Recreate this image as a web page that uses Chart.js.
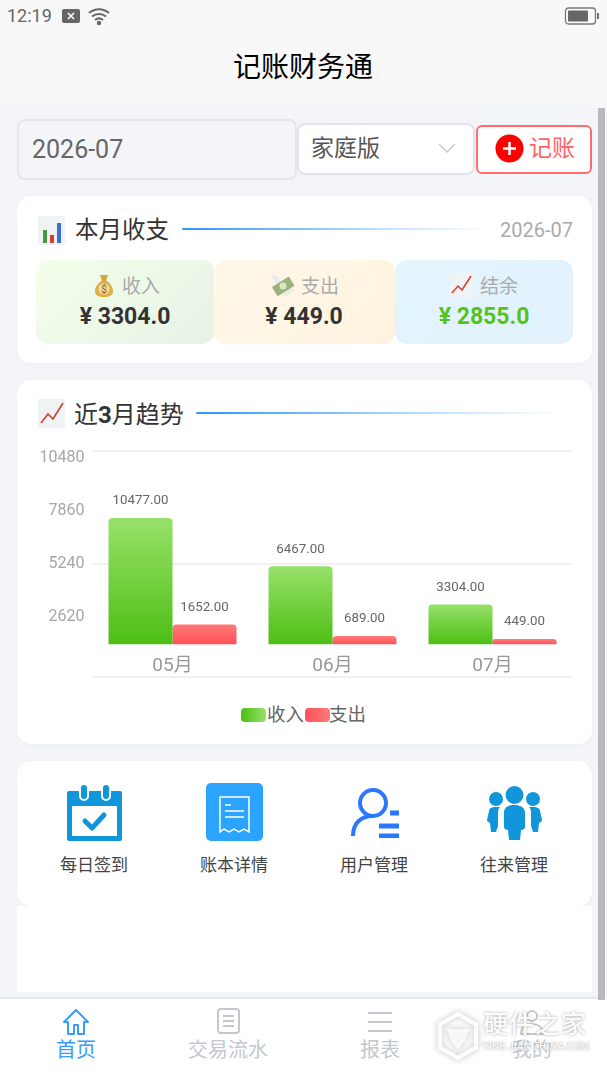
<!DOCTYPE html>
<html lang="zh">
<head>
<meta charset="utf-8">
<title>记账财务通</title>
<script src="https://cdn.jsdelivr.net/npm/chart.js@4/dist/chart.umd.min.js"></script>
<style>
html, body { margin: 0; padding: 0; background: #fff; }
body { width: 607px; height: 1080px; position: relative; overflow: hidden; font-family: Roboto, "Noto Sans CJK SC", sans-serif; }
div, span, svg, canvas { position: absolute; box-sizing: border-box; }
.txt { white-space: nowrap; line-height: 1; }
.center { transform: translateX(-50%); text-align: center; }
.card { background: #fff; border-radius: 14px; box-shadow: 0 1px 4px rgba(200,205,220,.15); }
.line { height: 2px; border-radius: 1px; background: linear-gradient(90deg, #2f95fb, #bfe0ff 65%, rgba(255,255,255,0)); }
.sub { top: 260px; height: 84px; border-radius: 12px; }
.sub-label { top: 277px; font-size: 19px; color: #aaa; }
.sub-value { top: 305px; font-size: 23px; font-weight: 700; color: #333; }
.grid-label { top: 857px; font-size: 17px; color: #444; }
.tab { top: 1040px; font-size: 20px; color: #c4c7d0; }
</style>
</head>
<body>
<div style="left:0;top:0;width:607px;height:105px;background:#f8f8f8"></div>
<div style="left:0;top:105px;width:607px;height:892px;background:#f4f5f9"></div>

<!-- status bar -->
<div class="txt" style="left:7px;top:7px;font-size:18px;color:#666">12:19</div>
<svg style="left:61px;top:8px" width="20" height="16"><rect x="1" y="1" width="18" height="14" rx="2" fill="#666"/><path d="M7 5l6 6M13 5l-6 6" stroke="#fff" stroke-width="1.6"/></svg>
<svg style="left:87px;top:6px" width="24" height="20" fill="none" stroke="#666" stroke-width="2"><path d="M2 7c6-5 14-5 20 0M5 10.500c4-3.500 10-3.500 14 0M8 14c2.500-2 5.500-2 8 0"/><circle cx="12" cy="17" r="1.200" fill="#666"/></svg>
<svg style="left:564px;top:7px" width="36" height="18"><rect x="1.500" y="1" width="30" height="16" rx="3" fill="none" stroke="#777" stroke-width="1.300"/><rect x="4" y="3.500" width="20" height="11" rx="1" fill="#666"/><rect x="33" y="6" width="2" height="6" fill="#777"/></svg>

<div class="txt center" style="left:303px;top:54px;font-size:28px;color:#000">记账财务通</div>

<!-- scrollbar -->
<div style="left:598px;top:108px;width:7px;height:892px;background:#b9b9bc"></div>

<!-- filter row -->
<div style="left:17px;top:119px;width:280px;height:61px;border:2px solid #e4e6ee;border-radius:8px;background:#f4f5f9"></div>
<div class="txt" style="left:32px;top:137px;font-size:25px;color:#666">2026-07</div>
<div style="left:297px;top:123px;width:178px;height:52px;border:2px solid #e0e3ec;border-radius:8px;background:#fff"></div>
<div class="txt" style="left:311px;top:137px;font-size:23px;color:#555">家庭版</div>
<svg style="left:437px;top:142px" width="20" height="12" fill="none" stroke="#c8cbd6" stroke-width="1.500"><path d="M2 2l8 8 8-8"/></svg>
<div style="left:476px;top:125px;width:116px;height:49px;border:2px solid #ff6b6e;border-radius:6px;background:#fff"></div>
<svg style="left:495px;top:134px" width="29" height="29"><circle cx="14.500" cy="14.500" r="14" fill="#f00"/><path d="M14.500 8v13M8 14.500h13" stroke="#fff" stroke-width="2.500"/></svg>
<div class="txt" style="left:529px;top:137px;font-size:23px;color:#ff6366">记账</div>

<!-- this month -->
<div class="card" style="left:17px;top:196px;width:575px;height:167px"></div>
<svg style="left:38px;top:216px" width="27" height="29"><rect width="27" height="29" rx="1" fill="#f0f3f4"/><rect x="5" y="14" width="4" height="13" fill="#3f9b3c"/><rect x="12" y="19" width="4" height="8" fill="#db3c2e"/><rect x="19" y="7" width="4" height="20" fill="#3b6fd1"/></svg>
<div class="txt" style="left:75px;top:219px;font-size:23.500px;color:#333">本月收支</div>
<div class="line" style="left:182px;top:228px;width:308px"></div>
<div class="txt" style="right:34px;top:220px;font-size:20px;color:#aaa">2026-07</div>

<div class="sub" style="left:36px;width:178px;background:linear-gradient(135deg,#f3ffea,#e7f2e6)"></div>
<div class="sub" style="left:214px;width:181px;background:linear-gradient(135deg,#fff8e8,#fff3e0)"></div>
<div class="sub" style="left:395px;width:178px;background:linear-gradient(135deg,#e3f5ff,#e2f1fc)"></div>

<svg style="left:94px;top:273px" width="20" height="25"><path d="M6 2h8l-2 6h-4z" fill="#d9a43a"/><path d="M7 8h6c4 3 6 7 6 10 0 4-3 6-9 6s-9-2-9-6c0-3 2-7 6-10z" fill="#e2ae45"/><circle cx="10" cy="16" r="5.500" fill="#f4dc9a"/><text x="10" y="20" font-size="10" text-anchor="middle" fill="#7a5a18" font-family="Roboto">$</text></svg>
<div class="txt sub-label" style="left:122px">收入</div>
<div class="txt sub-value center" style="left:125px">¥ <span style="position:static">3304.0</span></div>

<svg style="left:270px;top:273px" width="25" height="25"><path d="M1 2c5 0 9 3 11 6l-5 3C5 8 2 5 1 2z" fill="#e8ecef"/><path d="M24 17c-3 4-7 6-11 7l1-5 5-4z" fill="#e8ecef"/><rect x="3" y="8" width="20" height="11" rx="1" transform="rotate(-32 13 13)" fill="#9db27c"/><circle cx="13" cy="13" r="3.500" fill="#dfe6c4"/></svg>
<div class="txt sub-label" style="left:301px">支出</div>
<div class="txt sub-value center" style="left:304px">¥ <span style="position:static">449.0</span></div>

<svg style="left:450px;top:273px" width="23" height="25"><rect width="23" height="25" fill="#f0f3f4"/><path d="M2 20l6-7 4 4 9-14" fill="none" stroke="#d0402e" stroke-width="1.500"/></svg>
<div class="txt sub-label" style="left:480px">结余</div>
<div class="txt sub-value center" style="left:484px;color:#52c41a">¥ <span style="position:static">2855.0</span></div>

<!-- trend card with chart -->
<div class="card" style="left:17px;top:380px;width:575px;height:364px"></div>
<svg style="left:38px;top:399px" width="27" height="29"><rect width="27" height="29" fill="#f0f3f4"/><path d="M3 24l7-9 5 5 10-16" fill="none" stroke="#d0402e" stroke-width="1.600"/></svg>
<div class="txt" style="left:74px;top:403px;font-size:24px;color:#333">近<b style="position:static">3</b>月趋势</div>
<div class="line" style="left:196px;top:412px;width:366px"></div>

<canvas id="trendChart" width="570" height="250" style="left:20px;top:440px;width:570px;height:250px"></canvas>
<div id="legend"></div>

<!-- shortcut card -->
<div class="card" style="left:17px;top:761px;width:575px;height:145px"></div>
<div style="left:17px;top:906px;width:575px;height:86px;background:#fff"></div>

<svg style="left:67px;top:783px" width="55" height="58"><rect y="8" width="55" height="50" rx="2" fill="#1296db"/><rect x="5" y="23" width="45" height="30" fill="#fff"/><rect x="13" y="1" width="8" height="16" rx="4" fill="#1296db" stroke="#fff" stroke-width="2"/><rect x="35" y="1" width="8" height="16" rx="4" fill="#1296db" stroke="#fff" stroke-width="2"/><path d="M18 38l7 7 12-13" fill="none" stroke="#1296db" stroke-width="5" stroke-linecap="round" stroke-linejoin="round"/></svg>
<div class="txt grid-label center" style="left:94px">每日签到</div>

<svg style="left:206px;top:783px" width="57" height="58"><rect width="57" height="58" rx="5" fill="#2aa4ff"/><path d="M14 14h29v35l-5-3-5 3-5-3-5 3-5-3-4 3z" fill="none" stroke="#fff" stroke-width="1.500"/><path d="M19 22h6M19 28h19M19 34h19" stroke="#fff" stroke-width="1.500"/></svg>
<div class="txt grid-label center" style="left:234px">账本详情</div>

<svg style="left:350px;top:788px" width="50" height="50" fill="none" stroke="#2a78ff" stroke-width="4"><circle cx="23" cy="15" r="13"/><path d="M3 48c0-12 7-20 20-20"/><path d="M40 25h9M29 38h20M29 48h20" stroke-width="5"/></svg>
<div class="txt grid-label center" style="left:374px">用户管理</div>

<svg style="left:487px;top:785px" width="55" height="56" fill="#1296db"><circle cx="27.500" cy="10" r="9"/><circle cx="9" cy="14" r="7"/><circle cx="46" cy="14" r="7"/><path d="M17 28c0-6 4-8 10-8s11 2 11 8v14c0 2-2 3-4 3l-1 10H22l-1-10c-2 0-4-1-4-3z"/><path d="M2 26c0-3 3-4 7-4h4c-2 2-2 4-2 7v12l-2 6H4l-1-9c-2-1-3-2-3-3z"/><path d="M53 26c0-3-3-4-7-4h-4c2 2 2 4 2 7v12l2 6h5l1-9c2-1 3-2 3-3z"/></svg>
<div class="txt grid-label center" style="left:514px">往来管理</div>

<!-- tab bar -->
<div style="left:0;top:997px;width:598px;height:83px;background:#fff;border-top:2px solid #e6e8f0"></div>
<svg style="left:62px;top:1008px" width="28" height="28" fill="none" stroke="#3a9bff" stroke-width="2"><path d="M14 2L2 14h4v12h6V17h4v9h6V14h4z" stroke-linejoin="round"/></svg>
<div class="txt tab center" style="left:76px;color:#3a9bff">首页</div>
<svg style="left:217px;top:1008px" width="23" height="26" fill="none" stroke="#c4c7d0" stroke-width="2"><rect x="1" y="1" width="21" height="24" rx="3"/><path d="M6 8h11M6 13h11M6 18h11"/></svg>
<div class="txt tab center" style="left:228px">交易流水</div>
<svg style="left:368px;top:1011px" width="24" height="22" stroke="#c4c7d0" stroke-width="2"><path d="M0 2h24M0 11h24M0 20h24"/></svg>
<div class="txt tab center" style="left:380px">报表</div>
<svg style="left:520px;top:1008px" width="24" height="27" fill="none" stroke="#c4c7d0" stroke-width="2"><circle cx="12" cy="8" r="5"/><path d="M1 26c0-7 5-10 11-10s11 3 11 10z"/></svg>
<div class="txt tab center" style="left:532px">我的</div>

<!-- watermark -->
<svg style="left:438px;top:1012px;filter:drop-shadow(0 0 3px rgba(120,120,120,.5))" width="40" height="48"><path d="M20 2l18 10.500v23L20 46 2 35.500v-23z" fill="none" stroke="rgba(255,255,255,.95)" stroke-width="4"/><path d="M9 17h22l-4 12-7 8-7-8z" fill="rgba(255,255,255,.85)"/></svg>
<div class="txt" style="left:483px;top:1012px;font-size:25px;font-weight:500;letter-spacing:1px;color:rgba(255,255,255,.95);text-shadow:0 0 3px rgba(110,110,110,.6)">硬件之家</div>
<div class="txt" style="left:483px;top:1042px;font-size:10px;font-weight:500;color:rgba(255,255,255,.95);text-shadow:0 0 2px rgba(110,110,110,.7)">YING JIAN ZHIJIA.COM</div>

<script>
// Chart data
const months = ['05月', '06月', '07月'];
const income = [10477, 6467, 3304];
const expense = [1652, 689, 449];
const seriesNames = ['收入', '支出'];
const yTickLabels = [2620, 5240, 7860, 10480];
const gridSteps = [0, 1, 2];

// vertical gradient for a bar, from the value down to zero
function barGradient(top, bottom) {
    return function (context) {
        const y = context.chart.scales.y;
        if (context.type !== 'data' || !y) return bottom;
        const from = y.getPixelForValue(context.raw);
        const to = y.getPixelForValue(0);
        if (!isFinite(from) || !isFinite(to)) return bottom;
        const g = context.chart.ctx.createLinearGradient(0, from, 0, to);
        g.addColorStop(0, top);
        g.addColorStop(1, bottom);
        return g;
    };
}

// value labels above the bars
const barValues = {
    id: 'barValues',
    afterDatasetsDraw(chart) {
        const ctx = chart.ctx;
        ctx.save();
        ctx.font = '13.3px Roboto';
        ctx.fillStyle = '#666';
        ctx.textAlign = 'center';
        ctx.textBaseline = 'middle';
        chart.data.datasets.forEach((ds, i) => {
            chart.getDatasetMeta(i).data.forEach((bar, j) => {
                ctx.fillText(ds.data[j].toFixed(2), bar.x, bar.y - 17);
            });
        });
        ctx.restore();
    }
};

new Chart(document.getElementById('trendChart').getContext('2d'), {
    type: 'bar',
    data: {
        labels: months,
        datasets: [
            { label: seriesNames[0], data: income, backgroundColor: barGradient('#98e16a', '#4dbf14') },
            { label: seriesNames[1], data: expense, backgroundColor: barGradient('#ff7a7a', '#ff5257') }
        ]
    },
    options: {
        responsive: false,
        animation: false,
        categoryPercentage: 0.8,
        barPercentage: 1,
        borderRadius: { topLeft: 4, topRight: 4 },
        layout: { padding: { left: 12.5, right: 17.5, top: 11, bottom: 13 } },
        plugins: { legend: { display: false }, tooltip: { enabled: false } },
        scales: {
            x: {
                position: { y: 0 },
                grid: { display: false },
                border: { display: false },
                ticks: { color: '#999', font: { size: 19, family: 'Roboto, "Noto Sans CJK SC"' }, padding: 3, maxRotation: 0 }
            },
            // the bars have their own scale, the printed ticks do not line up with it
            y: { display: false, min: -2712, max: 16035 },
            yLabels: {
                position: 'left',
                min: -346,
                max: 10826,
                afterBuildTicks: scale => { scale.ticks = yTickLabels.map(value => ({ value })); },
                afterFit: scale => { scale.width = 60; scale.paddingTop = 0; scale.paddingBottom = 0; },
                grid: { display: false },
                border: { display: false },
                ticks: { color: '#a6a6a6', font: { size: 16, family: 'Roboto' }, padding: 0, autoSkip: false, callback: value => String(value) }
            },
            yGrid: {
                position: 'left',
                min: 0,
                max: 2,
                afterBuildTicks: scale => { scale.ticks = gridSteps.map(value => ({ value })); },
                afterFit: scale => { scale.width = 0; scale.paddingTop = 0; scale.paddingBottom = 0; },
                grid: { color: '#f0f0f2', lineWidth: 2, drawTicks: false },
                border: { display: false },
                ticks: { display: false }
            }
        }
    },
    plugins: [barValues]
});

// legend is a plain row so the swatches can sit right next to the text
const legendColors = ['linear-gradient(90deg,#4dbf14,#98e16a)', 'linear-gradient(90deg,#ff5257,#ff7a7a)'];
const swatchLeft = [241, 305];
const legendLeft = [267, 329];
const legend = document.getElementById('legend');
seriesNames.forEach((name, i) => {
    const swatch = document.createElement('div');
    swatch.style.cssText = 'left:' + swatchLeft[i] + 'px;top:708px;width:25px;height:14px;border-radius:4px;background:' + legendColors[i];
    legend.appendChild(swatch);
    const text = document.createElement('div');
    text.className = 'txt';
    text.style.cssText = 'left:' + legendLeft[i] + 'px;top:706px;font-size:18.5px;color:#666';
    text.textContent = name;
    legend.appendChild(text);
});
</script>
</body>
</html>
